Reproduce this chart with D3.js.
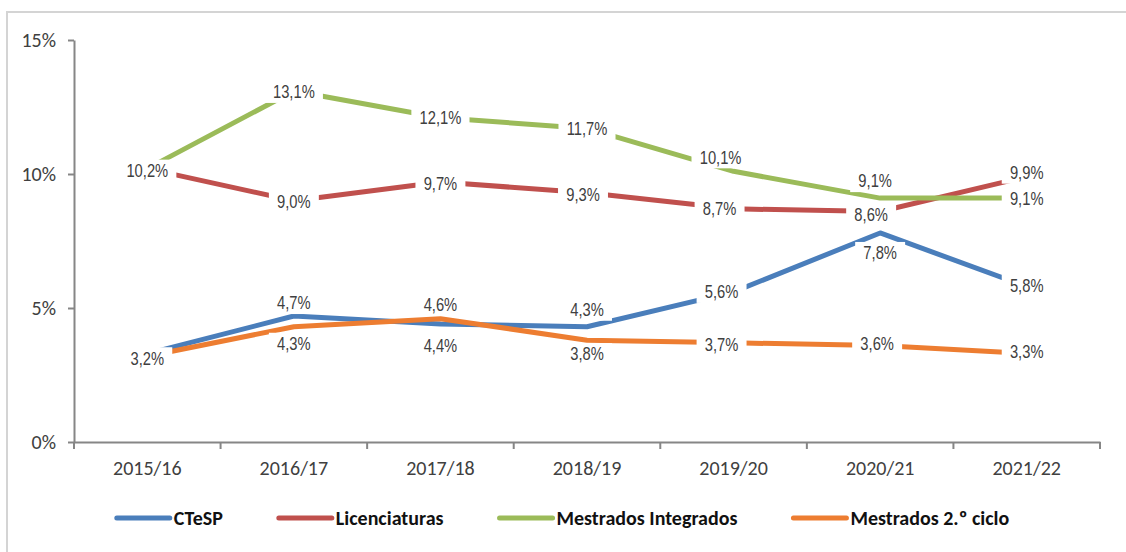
<!DOCTYPE html>
<html>
<head>
<meta charset="utf-8">
<script src="https://cdn.jsdelivr.net/npm/d3@7"></script>
<style>
  body { margin: 0; background: #fff; }
  svg { display: block; }
</style>
</head>
<body>
<div id="main"></div>
<script>
// chart data
const years = ['2015/16', '2016/17', '2017/18', '2018/19', '2019/20', '2020/21', '2021/22'];
const yTicks = [0, 5, 10, 15];

const ctesp = [3.3, 4.7, 4.4, 4.3, 5.6, 7.8, 5.8];
const licenciaturas = [10.2, 9.0, 9.7, 9.3, 8.7, 8.6, 9.9];
const mestradosIntegrados = [10.2, 13.1, 12.1, 11.7, 10.1, 9.1, 9.1];
const mestrados2 = [3.2, 4.3, 4.6, 3.8, 3.7, 3.6, 3.3];

const seriesNames = ['CTeSP', 'Licenciaturas', 'Mestrados Integrados', 'Mestrados 2.º ciclo'];
const seriesColors = ['#4a7ebb', '#c0504d', '#9bbb59', '#ed7d31'];

// where each data label sits relative to its point [dx, dy], null = label not shown
const labelOffsets = [
    [null, [0, -13], [0, 22], [0, -17], [-12, 0], [0, 20], [0, -1]],
    [null, [0, 1], [0, 2], [-4, 2], [-14, 0], [-9, 3], [0, -4]],
    [[0, 2], [0, 1], [0, 0], [0, 0], [-13, -14], [-5, -17], [0, 1]],
    [[0, 2], [0, 17], [0, -14], [0, 14], [-12, 2], [-3, -2], [0, -2]]
];

const width = 1126, height = 552;
const margin = { left: 74, right: 26, top: 40, bottom: 110 };
const tickFont = 'Carlito, Calibri, Lato, sans-serif';
const labelFont = '"Liberation Sans Narrow", "Arial Narrow", "Liberation Sans", Arial, sans-serif';
const narrow = 0.82; // squeeze regular sans to look like a narrow face

const svg = d3.select('#main')
    .append('svg')
    .attr('width', width)
    .attr('height', height);

// chart frame
svg.append('rect')
    .attr('x', 7).attr('y', 12)
    .attr('width', width + 20).attr('height', height + 20)
    .attr('fill', '#fff')
    .attr('stroke', '#d4d4d4')
    .attr('stroke-width', 2);

const xScale = d3.scaleBand()
    .domain(years)
    .range([margin.left, width - margin.right])
    .padding(0);

const yScale = d3.scaleLinear()
    .domain([0, 15])
    .range([height - margin.bottom, margin.top]);

const xc = d => xScale(d) + xScale.bandwidth() / 2;

// y axis
const yAxis = svg.append('g')
    .attr('transform', `translate(${margin.left}, 0)`)
    .call(d3.axisLeft(yScale).tickValues(yTicks).tickFormat(d => d + '%').tickSize(6).tickSizeOuter(0));
yAxis.select('.domain').attr('stroke', '#868686').attr('stroke-width', 2);
yAxis.selectAll('.tick line').attr('stroke', '#868686').attr('stroke-width', 2);
yAxis.selectAll('.tick text')
    .attr('x', -18)
    .attr('fill', '#404040')
    .style('font-family', tickFont)
    .style('font-size', '20px');

// x axis: labels in the middle of each band, ticks on band edges
const xAxis = svg.append('g')
    .attr('transform', `translate(0, ${height - margin.bottom})`)
    .call(d3.axisBottom(xScale).tickSize(0).tickPadding(19));
xAxis.select('.domain').attr('stroke', '#868686').attr('stroke-width', 2);
xAxis.selectAll('.tick text')
    .attr('fill', '#404040')
    .style('font-family', tickFont)
    .style('font-size', '20px');

const edges = years.map(d => xScale(d)).concat([xScale(years[years.length - 1]) + xScale.bandwidth()]);
xAxis.selectAll('line.edge')
    .data(edges)
    .enter()
    .append('line')
    .attr('class', 'edge')
    .attr('x1', d => d).attr('x2', d => d)
    .attr('y1', 0).attr('y2', 7)
    .attr('stroke', '#868686')
    .attr('stroke-width', 2);

// lines
const allSeries = [ctesp, licenciaturas, mestradosIntegrados, mestrados2];
const line = d3.line()
    .x((d, i) => xc(years[i]))
    .y(d => yScale(d));

svg.selectAll('path.series')
    .data(allSeries)
    .enter()
    .append('path')
    .attr('class', 'series')
    .attr('fill', 'none')
    .attr('stroke', (d, i) => seriesColors[i])
    .attr('stroke-width', 5)
    .attr('stroke-linejoin', 'round')
    .attr('d', line);

// data labels with white background
const fmt = v => v.toFixed(1).replace('.', ',') + '%';
const labelsG = svg.append('g');
allSeries.forEach((values, s) => {
    values.forEach((v, i) => {
        const off = labelOffsets[s][i];
        if (!off) return;
        const cx = xc(years[i]) + off[0];
        const cy = yScale(v) + off[1];
        const g = labelsG.append('g').attr('transform', `translate(${cx}, ${cy})`);
        const bg = g.append('rect').attr('fill', '#fff');
        const t = g.append('text')
            .attr('text-anchor', 'middle')
            .attr('dy', '0.35em')
            .attr('fill', '#404040')
            .attr('transform', `scale(${narrow}, 1)`)
            .style('font-family', labelFont)
            .style('font-size', '18px')
            .text(fmt(v));
        const w = t.node().getBBox().width * narrow;
        bg.attr('x', -w / 2 - 8).attr('y', -11)
            .attr('width', w + 16).attr('height', 22);
    });
});

// legend, centred under the chart
const legend = svg.append('g');
const items = seriesNames.map((name, i) => {
    const g = legend.append('g');
    g.append('line')
        .attr('x1', 0).attr('x2', 53)
        .attr('y1', 0).attr('y2', 0)
        .attr('stroke', seriesColors[i])
        .attr('stroke-width', 5)
        .attr('stroke-linecap', 'round');
    const t = g.append('text')
        .attr('x', 57)
        .attr('dy', '0.35em')
        .attr('fill', '#111')
        .style('font-family', tickFont)
        .style('font-weight', 'bold')
        .style('font-size', '20px')
        .text(name);
    return { g, w: 57 + t.node().getComputedTextLength() };
});
const gap = 56;
const total = d3.sum(items, d => d.w) + gap * (items.length - 1);
let lx = width / 2 - total / 2;
items.forEach(it => {
    it.g.attr('transform', `translate(${lx}, 518)`);
    lx += it.w + gap;
});
</script>
</body>
</html>
